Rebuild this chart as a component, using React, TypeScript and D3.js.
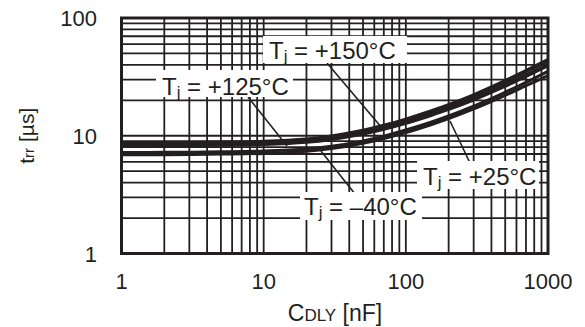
import React from "react";
import * as d3 from "d3";

const capNF = [1, 2, 5, 10, 20, 30, 50, 70, 100, 150, 200, 300, 500, 700, 1000];
const t150 = [8.6, 8.63, 8.71, 8.86, 9.27, 9.82, 10.98, 12.1, 13.67, 16.01, 18.12, 22.0, 29.01, 35.38, 43.8];
const t125 = [8.3, 8.33, 8.41, 8.54, 8.92, 9.43, 10.49, 11.5, 12.92, 15.05, 16.94, 20.46, 26.69, 32.37, 39.9];
const t25 = [7.2, 7.22, 7.29, 7.4, 7.71, 8.13, 9.04, 9.92, 11.17, 13.03, 14.71, 17.82, 23.38, 28.41, 35.2];
const tm40 = [6.9, 6.92, 6.99, 7.09, 7.39, 7.79, 8.65, 9.49, 10.66, 12.42, 13.99, 16.9, 22.05, 26.61, 32.4];

const xTicks = [1, 10, 100, 1000];
const yTicks = [1, 10, 100];

const W = 585, H = 327;
const L = 121.5, R = 548, T = 18, B = 253.5;
const FONT = "'Liberation Sans', Arial, sans-serif";
const INK = "#231f20";

export default function App() {
  const x = d3.scaleLog().domain([1, 1000]).range([L, R]);
  const y = d3.scaleLog().domain([1, 100]).range([B, T]);

  const xGrid: number[] = [];
  [1, 10, 100].forEach((d) => { for (let k = 2; k <= 10; k++) xGrid.push(d * k); });
  const yGrid: number[] = [];
  [1, 10].forEach((d) => { for (let k = 2; k <= 10; k++) yGrid.push(d * k); });

  const line = (vals: number[]) =>
    d3.line<number>()
      .x((_, i) => x(capNF[i]))
      .y((v) => y(v))
      .curve(d3.curveCatmullRom.alpha(0.5))(vals) as string;

  const series = [
    { vals: tm40, w: 3.1 },
    { vals: t25, w: 3.1 },
    { vals: t125, w: 4.4 },
    { vals: t150, w: 4.4 },
  ];

  const labels = [
    { text: "+150°C", box: [263, 36, 144, 27], tx: 269, ty: 59, lead: [[327, 63], [382, 128]] },
    { text: "+125°C", box: [156, 70, 137, 27], tx: 162, ty: 95, lead: [[248, 97], [287, 146]] },
    { text: "+25°C", box: [417, 161, 122, 28], tx: 423, ty: 185, lead: [[450, 121], [470, 163]] },
    { text: "–40°C", box: [300, 192, 122, 28], tx: 304, ty: 215, lead: [[321, 151], [355, 194]] },
  ];

  return (
    <svg width={W} height={H} style={{ position: "absolute", left: 0, top: 0, background: "#fff" }}>
      {xGrid.map((g) => (
        <line key={"x" + g} x1={x(g)} x2={x(g)} y1={T} y2={B} stroke={INK} strokeWidth={1.8} />
      ))}
      {yGrid.map((g) => (
        <line key={"y" + g} x1={L} x2={R} y1={y(g)} y2={y(g)} stroke={INK} strokeWidth={1.8} />
      ))}
      {labels.map((l, i) => (
        <line key={"ld" + i} x1={l.lead[0][0]} y1={l.lead[0][1]} x2={l.lead[1][0]} y2={l.lead[1][1]} stroke={INK} strokeWidth={1.6} />
      ))}
      {series.map((s, i) => (
        <path key={"s" + i} d={line(s.vals)} fill="none" stroke={INK} strokeWidth={s.w} />
      ))}
      {labels.map((l, i) => (
        <g key={"lb" + i}>
          <rect x={l.box[0]} y={l.box[1]} width={l.box[2]} height={l.box[3]} fill="#fff" />
          <text x={l.tx} y={l.ty} fontFamily={FONT} fontSize={24} fill={INK}>
            T<tspan fontSize={17} dy={3}>j</tspan><tspan dy={-3}>{" = " + l.text}</tspan>
          </text>
        </g>
      ))}
      <rect x={L} y={T} width={R - L} height={B - T} fill="none" stroke={INK} strokeWidth={3} />
      {xTicks.map((t) => (
        <text key={"xt" + t} x={x(t)} y={289} textAnchor="middle" fontFamily={FONT} fontSize={22} fill={INK}>{t}</text>
      ))}
      {yTicks.map((t) => (
        <text key={"yt" + t} x={97} y={y(t) + 8} textAnchor="end" fontFamily={FONT} fontSize={22} fill={INK}>{t}</text>
      ))}
      <text x={335} y={321} textAnchor="middle" fontFamily={FONT} fontSize={23} fill={INK}>
        C<tspan fontSize={17}>DLY</tspan> [nF]
      </text>
      <text transform={`translate(34,${(T + B) / 2}) rotate(-90)`} textAnchor="middle" fontFamily={FONT} fontSize={21} fill={INK}>
        t<tspan fontSize={15}>rr</tspan> [µs]
      </text>
    </svg>
  );
}
